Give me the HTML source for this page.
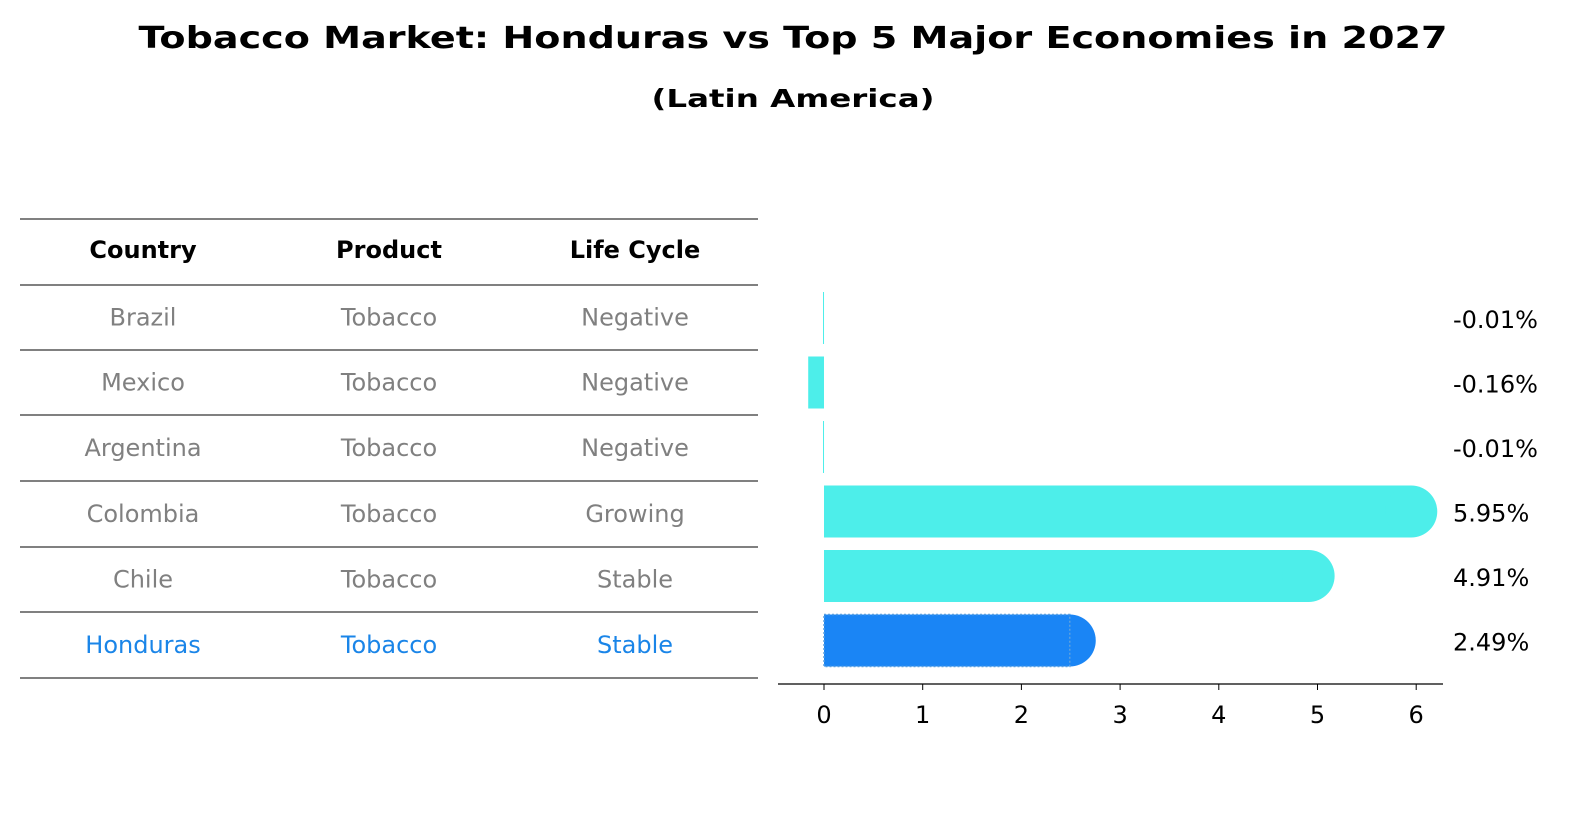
<!DOCTYPE html>
<html><head><meta charset="utf-8"><style>
html,body{margin:0;padding:0;background:#fff;overflow:hidden;width:1596px;height:823px;}
#wrap{position:relative;width:1596px;height:823px;overflow:hidden;}
svg{display:block;}
</style></head><body>
<div id="wrap">
<svg id="svg" width="1596" height="823" xmlns="http://www.w3.org/2000/svg">
<text x="793" y="48" text-anchor="middle" font-family="DejaVu Sans, sans-serif" font-weight="bold" font-size="30" textLength="1309" lengthAdjust="spacingAndGlyphs">Tobacco Market: Honduras vs Top 5 Major Economies in 2027</text>
<text x="793" y="107" text-anchor="middle" font-family="DejaVu Sans, sans-serif" font-weight="bold" font-size="25" textLength="283" lengthAdjust="spacingAndGlyphs">(Latin America)</text>
<g id="table"></g>
<g id="bars"></g>
</svg>
</div>
<script>
const countries=["Brazil","Mexico","Argentina","Colombia","Chile","Honduras"];
const products=["Tobacco","Tobacco","Tobacco","Tobacco","Tobacco","Tobacco"];
const lifeCycles=["Negative","Negative","Negative","Growing","Stable","Stable"];
const growth=[-0.01,-0.16,-0.01,5.95,4.91,2.49];
const valueLabels=["-0.01%","-0.16%","-0.01%","5.95%","4.91%","2.49%"];
const xTicks=[0,1,2,3,4,5,6];

const NS="http://www.w3.org/2000/svg";
function mk(tag,attrs,parent){const e=document.createElementNS(NS,tag);for(const k in attrs)e.setAttribute(k,attrs[k]);parent.appendChild(e);return e;}
const font="DejaVu Sans, sans-serif";
const FS=24;
const table=document.getElementById('table');
const lineYs=[219,285,350,415,481,547,612,678];
lineYs.forEach((y,i)=>{const l=mk('line',{x1:20,x2:758,y1:y,y2:y,stroke:'#000','stroke-width':1},table);

});
const colX=[143,389,635];
["Country","Product","Life Cycle"].forEach((h,i)=>{const t=mk('text',{x:colX[i],y:258,'text-anchor':'middle','font-family':font,'font-weight':'bold','font-size':FS},table);t.textContent=h;

});
countries.forEach((c,r)=>{const y=(lineYs[r+1]+lineYs[r+2])/2+8;const col=c==="Honduras"?'#1a85e8':'#808080';
[c,products[r],lifeCycles[r]].forEach((v,i)=>{const t=mk('text',{x:colX[i],y:y,'text-anchor':'middle','font-family':font,'font-size':FS,fill:col},table);t.textContent=v;

});});

const bars=document.getElementById('bars');
const x0=824,ppu=98.7;
const xs=v=>x0+v*ppu;
const rowY=r=>318+r*64.5;
const bh=52;
const ax=mk('line',{x1:778,x2:1443,y1:684,y2:684,stroke:'#000','stroke-width':1.3},bars);


xTicks.forEach(v=>{const tk=mk('line',{x1:xs(v),x2:xs(v),y1:684,y2:690,stroke:'#000'},bars);


const t=mk('text',{x:xs(v),y:723,'text-anchor':'middle','font-family':font,'font-size':FS},bars);t.textContent=v;

});
growth.forEach((v,r)=>{const cy=rowY(r);const col=countries[r]==="Honduras"?'#1a85f5':'#4deeea';
const a=Math.min(xs(0),xs(v)),w=Math.max(Math.abs(xs(v)-xs(0)),1);
const b=mk('rect',{x:a,y:cy-bh/2,width:w,height:bh,fill:col},bars);


if(v>0){const cap=mk('circle',{cx:xs(v),cy:cy,r:bh/2,fill:col},bars);

}
if(countries[r]==="Honduras"){const d=mk('rect',{x:a,y:cy-bh/2,width:w,height:bh,fill:'none',stroke:'#5aa0e0','stroke-dasharray':'2,2','stroke-width':1.5},bars);

}
const t=mk('text',{x:1453,y:cy+10,'font-family':font,'font-size':FS},bars);t.textContent=valueLabels[r];

});
</script>
</body></html>
